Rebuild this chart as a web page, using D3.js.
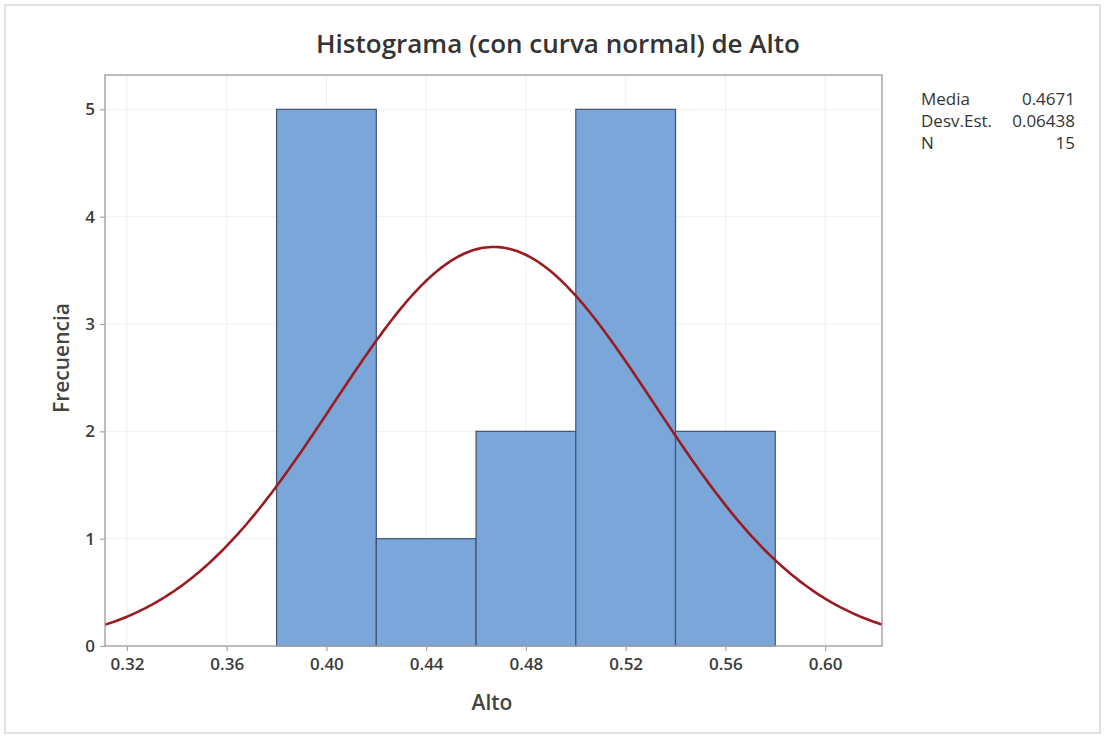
<!DOCTYPE html>
<html><head><meta charset="utf-8">
<script src="https://cdn.jsdelivr.net/npm/d3@7"></script>
<style>
body{margin:0;background:#fff;}
text{font-family:"Open Sans","Noto Sans",sans-serif;}
</style></head>
<body><svg id="chart" width="1105" height="738"></svg>
<script>
// Data
const binStarts = [0.38, 0.42, 0.46, 0.50, 0.54];
const binWidthVal = 0.04;
const counts = [5, 1, 2, 5, 2];
const xTicks = [0.32, 0.36, 0.40, 0.44, 0.48, 0.52, 0.56, 0.60];
const yTicks = [0, 1, 2, 3, 4, 5];
const statLabels = ["Media", "Desv.Est.", "N"];
const statValues = ["0.4671", "0.06438", "15"];
const mean = 0.4671, sd = 0.06438, n = 15;

const svg = d3.select("#chart");
const plot = {left:105, top:75, right:882, bottom:646};

svg.append("rect").attr("x",5).attr("y",5).attr("width",1095).attr("height",728)
  .attr("fill","#fff").attr("stroke","#e2e2e2").attr("stroke-width",2);

const x = d3.scaleLinear().domain([0.3112, 0.6228]).range([plot.left, plot.right]);
const y = d3.scaleLinear().domain([0, 5.32]).range([plot.bottom, plot.top]);

// gridlines
const g = svg.append("g");
g.selectAll(".vg").data(xTicks).join("line")
  .attr("x1",d=>x(d)).attr("x2",d=>x(d)).attr("y1",plot.top).attr("y2",plot.bottom)
  .attr("stroke","#efefef").attr("stroke-width",1);
g.selectAll(".hg").data(yTicks.filter(d=>d>0)).join("line")
  .attr("x1",plot.left).attr("x2",plot.right).attr("y1",d=>y(d)).attr("y2",d=>y(d))
  .attr("stroke","#efefef").attr("stroke-width",1);

// bars
svg.append("g").selectAll("rect").data(binStarts).join("rect")
  .attr("x",d=>x(d)).attr("width",d=>x(d+binWidthVal)-x(d))
  .attr("y",(d,i)=>y(counts[i])).attr("height",(d,i)=>y(0)-y(counts[i]))
  .attr("fill","#7ba6d9").attr("stroke","#41546f").attr("stroke-width",1.2);

// normal curve
const curveXs = d3.range(0, 301).map(i => x.domain()[0] + (x.domain()[1]-x.domain()[0])*i/300);
const pdf = v => n*binWidthVal/(sd*Math.sqrt(2*Math.PI))*Math.exp(-0.5*((v-mean)/sd)**2);
svg.append("path").datum(curveXs)
  .attr("d", d3.line().x(d=>x(d)).y(d=>y(pdf(d))))
  .attr("fill","none").attr("stroke","#9a1c22").attr("stroke-width",2.6);

// frame
svg.append("rect").attr("x",plot.left).attr("y",plot.top)
  .attr("width",plot.right-plot.left).attr("height",plot.bottom-plot.top)
  .attr("fill","none").attr("stroke","#a6a6a6").attr("stroke-width",1.5);

// axes
const xAxis = d3.axisBottom(x).tickValues(xTicks).tickFormat(d3.format(".2f")).tickSizeInner(5).tickSizeOuter(0).tickPadding(7);
const xg = svg.append("g").attr("transform",`translate(0,${plot.bottom})`).call(xAxis);
const yAxis = d3.axisLeft(y).tickValues(yTicks).tickFormat(d3.format("d")).tickSizeInner(5).tickSizeOuter(0).tickPadding(5);
const yg = svg.append("g").attr("transform",`translate(${plot.left},0)`).call(yAxis);
[xg,yg].forEach(a=>{
  a.select(".domain").remove();
  a.selectAll(".tick line").attr("stroke","#a6a6a6").attr("stroke-width",1.2);
  a.selectAll(".tick text").attr("fill","#3c3c3c").style("font-size","17px").style("font-weight","600");
});

// titles
svg.append("text").attr("x",558).attr("y",53).attr("text-anchor","middle")
  .attr("fill","#333").style("font-size","26px").style("font-weight","600")
  .text("Histograma (con curva normal) de Alto");
svg.append("text").attr("x",492).attr("y",710).attr("text-anchor","middle")
  .attr("fill","#444").style("font-size","21px").style("font-weight","600").text("Alto");
svg.append("text").attr("transform","translate(69,358) rotate(-90)").attr("text-anchor","middle")
  .attr("fill","#444").style("font-size","21px").style("font-weight","600").text("Frecuencia");

// stats
const st = svg.append("g");
statLabels.forEach((l,i)=>{
  st.append("text").attr("x",921).attr("y",105+i*22).attr("fill","#333").style("font-size","17px").text(l);
  st.append("text").attr("x",1075).attr("y",105+i*22).attr("text-anchor","end").attr("fill","#333").style("font-size","17px").text(statValues[i]);
});
</script></body></html>
